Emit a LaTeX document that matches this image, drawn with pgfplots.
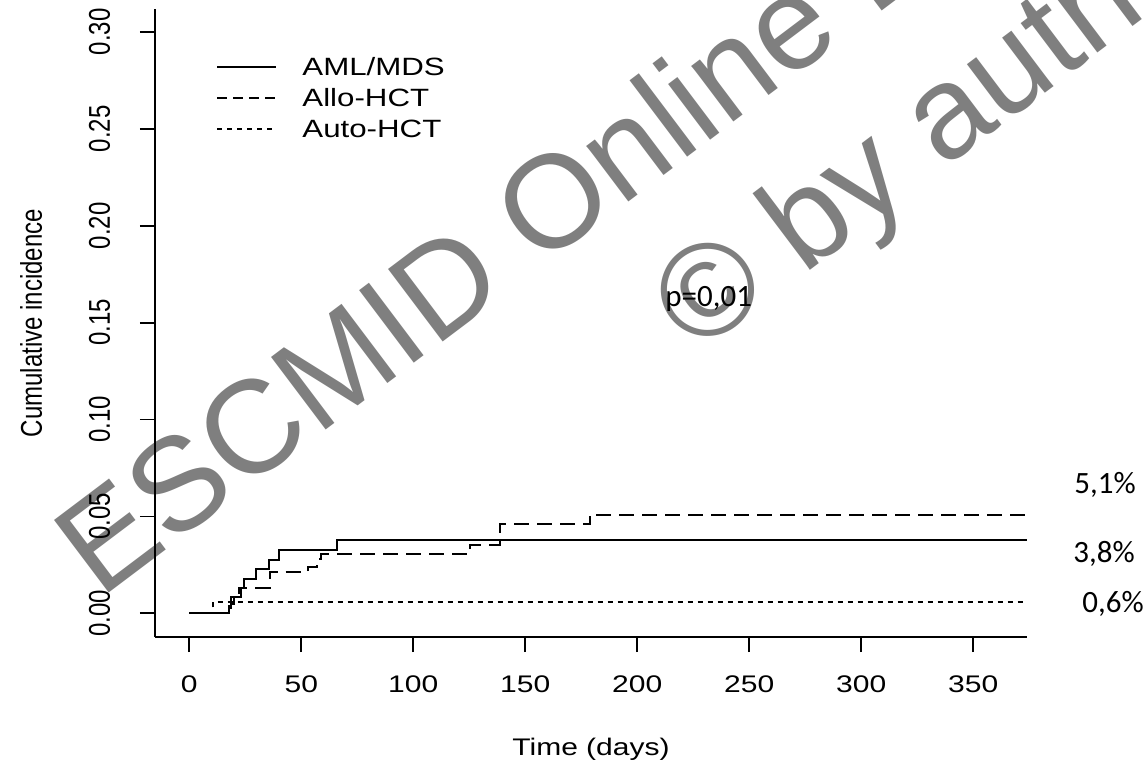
\documentclass[border=0pt]{standalone}
\usepackage{pgfplots}
\pgfplotsset{compat=1.18}
\usepackage{fontspec}
\setmainfont{Liberation Sans}
\newfontfamily\horfont{Liberation Sans}[FakeStretch=1.25]
\newfontfamily\rotfont{Liberation Sans}[FakeStretch=0.8]
\newfontfamily\calfont{Carlito}
\newfontfamily\wmfont{Liberation Sans}

\pgfplotstableread{
x y
0 0
17.6 0.004
18.8 0.0082
23 0.0133
24.6 0.0176
29.8 0.0227
35.7 0.0277
40.2 0.0327
65.8 0.0377
374 0.0377
}\amlmds

\pgfplotstableread{
x y
0 0
18.5 0.005
20 0.0085
22 0.0133
36 0.0215
53 0.024
57 0.028
59 0.0305
125.4 0.0352
138.5 0.046
178.9 0.051
374 0.051
}\allohct

\pgfplotstableread{
x y
0 0
10.7 0.006
374 0.006
}\autohct

\begin{document}
\begin{tikzpicture}
\useasboundingbox (0,0) rectangle (572.5pt,381pt);
\clip (0,0) rectangle (572.5pt,381pt);
\begin{axis}[
  at={(77.5pt,62.5pt)}, anchor=south west,
  scale only axis, width=436pt, height=314pt,
  xmin=-15.3, xmax=374, ymin=-0.0122, ymax=0.3118,
  axis lines=left,
  axis line style={-, line width=0.9pt, black},
  tick align=outside, major tick length=7.5pt,
  tick style={line width=0.9pt, black},
  xtick={0,50,...,350},
  ytick={0,0.05,0.1,0.15,0.2,0.25,0.3},
  scaled y ticks=false,
  /pgf/number format/assume math mode=true,
  yticklabel style={/pgf/number format/fixed, /pgf/number format/fixed zerofill, /pgf/number format/precision=2,
    font=\rotfont\fontsize{15}{18}\selectfont, xshift=-15pt, rotate=90, anchor=base, inner sep=0pt},
  xticklabel style={font=\horfont\fontsize{12}{14}\selectfont, anchor=north, inner sep=0pt, yshift=-11.5pt},
  xlabel={Time (days)}, ylabel={Cumulative incidence},
  xlabel style={font=\horfont\fontsize{12}{14}\selectfont, at={(axis description cs:0.5,-0.161)}, anchor=north, inner sep=0pt},
  ylabel style={font=\rotfont\fontsize{15}{18}\selectfont, at={(axis description cs:-0.1296,0.5)}, anchor=base, inner sep=0pt},
  legend style={at={(axis description cs:0.07,0.923)}, anchor=north west, draw=none, fill=none, inner sep=0pt,
    font=\horfont\fontsize{12.5}{14}\selectfont, row sep=6.55pt, column sep=12.5pt,
    nodes={inner sep=0pt, text depth=0pt, text height=8.95pt}},
  legend cell align=left,
  legend image code/.code={\draw[#1] (0pt,0pt) -- (29.5pt,0pt);},
]
\addplot[const plot, black, line width=1pt] table {\amlmds};
\addlegendentry{AML/MDS}
\addplot[const plot, black, line width=1pt, dash pattern=on 7.5pt off 4pt,
  legend image post style={dash pattern=on 5pt off 3pt}] table {\allohct};
\addlegendentry{Allo-HCT}
\addplot[const plot, black, line width=0.9pt, dash pattern=on 2.5pt off 2.5pt] table {\autohct};
\addlegendentry{Auto-HCT}
\end{axis}
\node[font=\calfont\fontsize{15.5}{18}\selectfont, anchor=base west, inner sep=0pt] at (332.5pt,228pt) {p=0,01};
\node[font=\calfont\fontsize{15.5}{18}\selectfont, anchor=base west, inner sep=0pt] at (537pt,134.5pt) {5,1\%};
\node[font=\calfont\fontsize{15.5}{18}\selectfont, anchor=base west, inner sep=0pt] at (536.5pt,100pt) {3,8\%};
\node[font=\calfont\fontsize{15.5}{18}\selectfont, anchor=base west, inner sep=0pt] at (541pt,75pt) {0,6\%};
\node[font=\wmfont\fontsize{66}{72}\selectfont, text=black, text opacity=0.5, rotate=37, anchor=base west, inner sep=0pt] at (50pt,81pt) {ESCMID Online Lecture Library};
\node[font=\wmfont\fontsize{66}{72}\selectfont, text=black, text opacity=0.5, rotate=37, anchor=base west, inner sep=0pt] at (348pt,203pt) {© by author};
\end{tikzpicture}
\end{document}
